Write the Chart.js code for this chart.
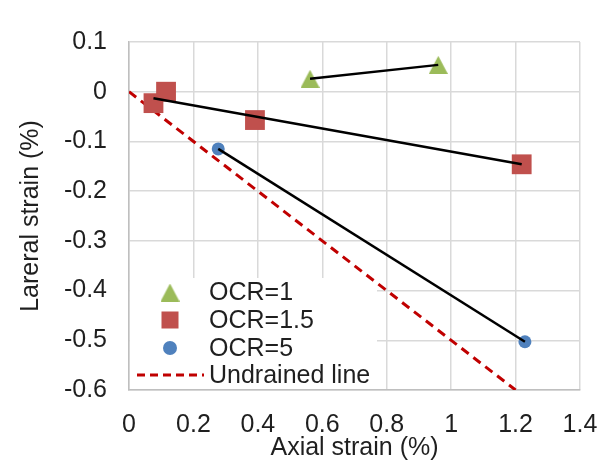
<!DOCTYPE html>
<html lang="en">
<head>
  <meta charset="UTF-8">
  <title>Lateral vs axial strain</title>
  <style>
    html, body { margin: 0; padding: 0; background: #fff; }
    #chart-box { width: 598px; height: 463px; }
  </style>
</head>
<body>
  <div id="chart-box"><canvas id="strain-chart"></canvas></div>
  <script src="https://cdn.jsdelivr.net/npm/chart.js"></script>
  <script>
// values
const ocr1X = [0.562, 0.960];
const ocr1Y = [0.026, 0.054];
const ocr15X = [0.076, 0.115, 0.391, 1.219];
const ocr15Y = [-0.023, 0.0, -0.057, -0.146];
const ocr5X = [0.277, 1.229];
const ocr5Y = [-0.115, -0.503];
// black trend lines
const trend15X = [0.076, 1.219];
const trend15Y = [-0.013, -0.146];
// undrained line
const undrainedX = [0, 1.2];
const undrainedY = [0, -0.6];
const xTicks = [0, 0.2, 0.4, 0.6, 0.8, 1, 1.2, 1.4];
const yTicks = [0.1, 0, -0.1, -0.2, -0.3, -0.4, -0.5, -0.6];

const GREEN = '#9bbb59', RED = '#c0504d', BLUE = '#4f81bd', DASH = '#c00000';
const FONT = 'Liberation Sans, Arial, sans-serif';
const TXT = '#1f1f1f';
const FS = 25;

const pts = (xs, ys) => xs.map((x, i) => ({ x: x, y: ys[i] }));

// triangle marker centred on its box, like the spreadsheet one
function triangleImage(w, h, color) {
  const c = document.createElement('canvas');
  c.width = w; c.height = h;
  const g = c.getContext('2d');
  g.fillStyle = color;
  g.beginPath();
  g.moveTo(w / 2, 0);
  g.lineTo(w, h);
  g.lineTo(0, h);
  g.closePath();
  g.fill();
  return c;
}
const triImg = triangleImage(19, 18, GREEN);

function markerSet(label, xs, ys, color, style, r) {
  return {
    label: label, data: pts(xs, ys), showLine: false, order: 2,
    pointStyle: style, pointRadius: r, pointHoverRadius: r,
    backgroundColor: color, borderColor: color, pointBorderWidth: 0
  };
}
function lineSet(xs, ys) {
  return {
    label: '', data: pts(xs, ys), showLine: true, order: 1,
    borderColor: '#000', borderWidth: 2.5, pointRadius: 0, pointHoverRadius: 0
  };
}

// legend drawn inside the plot, bottom left, on a white box
const insideLegend = {
  id: 'insideLegend',
  beforeDatasetsDraw(chart) {
    const ctx = chart.ctx, a = chart.chartArea;
    const bx = a.left + 1, by = 278, bw = 377 - bx, bh = a.bottom - 1 - by;
    ctx.save();
    ctx.fillStyle = '#fff';
    ctx.fillRect(bx, by, bw, bh);
    const mx = 170, tx = 209;
    const rows = [292.5, 320, 348, 375];
    ctx.drawImage(triImg, mx - 9.5, rows[0] - 9);
    ctx.fillStyle = RED;
    ctx.fillRect(mx - 8.5, rows[1] - 8.5, 17, 17);
    ctx.fillStyle = BLUE;
    ctx.beginPath();
    ctx.arc(mx, rows[2], 7, 0, Math.PI * 2);
    ctx.fill();
    ctx.strokeStyle = DASH;
    ctx.lineWidth = 3;
    ctx.setLineDash([8, 5]);
    ctx.beginPath();
    ctx.moveTo(137, rows[3]);
    ctx.lineTo(204, rows[3]);
    ctx.stroke();
    ctx.setLineDash([]);
    ctx.fillStyle = TXT;
    ctx.font = FS + 'px ' + FONT;
    ctx.textBaseline = 'middle';
    ['OCR=1', 'OCR=1.5', 'OCR=5', 'Undrained line'].forEach((t, i) => ctx.fillText(t, tx, rows[i] + 1));
    ctx.restore();
  }
};

const config = {
  type: 'scatter',
  data: {
    datasets: [
      lineSet(ocr1X, ocr1Y),
      lineSet(trend15X, trend15Y),
      lineSet(ocr5X, ocr5Y),
      markerSet('OCR=1', ocr1X, ocr1Y, GREEN, triImg, 10),
      markerSet('OCR=1.5', ocr15X, ocr15Y, RED, 'rect', 14),
      markerSet('OCR=5', ocr5X, ocr5Y, BLUE, 'circle', 6.5),
      {
        label: 'Undrained line', data: pts(undrainedX, undrainedY), showLine: true, order: 3,
        borderColor: DASH, borderWidth: 3, borderDash: [9, 6], pointRadius: 0, pointHoverRadius: 0
      }
    ]
  },
  options: {
    responsive: true,
    maintainAspectRatio: false,
    animation: false,
    layout: { padding: { top: 42, right: 18, left: 0, bottom: 0 } },
    plugins: { legend: { display: false }, tooltip: { enabled: false } },
    scales: {
      x: {
        type: 'linear', min: 0, max: 1.4,
        afterBuildTicks: s => { s.ticks = xTicks.map(v => ({ value: v })); },
        afterFit: s => { s.height = 73; s.paddingLeft = 0; s.paddingRight = 0; },
        grid: { color: '#d9d9d9', lineWidth: 1.5, drawTicks: false },
        border: { color: '#bfbfbf', width: 1.5 },
        ticks: { color: TXT, font: { family: FONT, size: FS }, padding: 20, maxRotation: 0,
                 callback: v => String(Math.round(v * 10) / 10) },
        title: { display: true, text: 'Axial strain (%)', color: TXT,
                 font: { family: FONT, size: FS }, padding: { top: 0, bottom: 0 } }
      },
      y: {
        type: 'linear', min: -0.6, max: 0.1,
        afterBuildTicks: s => { s.ticks = yTicks.map(v => ({ value: v })); },
        afterFit: s => { s.width = 129; s.paddingTop = 0; s.paddingBottom = 0; },
        grid: { color: '#d9d9d9', lineWidth: 1.5, drawTicks: false },
        border: { color: '#bfbfbf', width: 1.5 },
        ticks: { color: TXT, font: { family: FONT, size: FS }, padding: 22,
                 callback: v => String(Math.round(v * 10) / 10) },
        title: { display: true, text: 'Lareral strain (%)', color: TXT,
                 font: { family: FONT, size: FS }, padding: { top: 16, bottom: 0 } }
      }
    }
  },
  plugins: [insideLegend]
};

new Chart(document.getElementById('strain-chart').getContext('2d'), config);
  </script>
</body>
</html>
